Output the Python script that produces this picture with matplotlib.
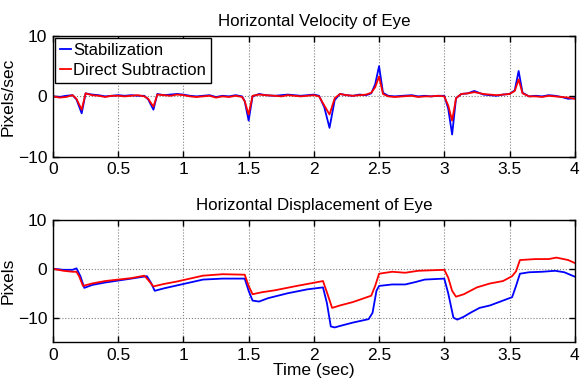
import matplotlib
matplotlib.use("Agg")
import matplotlib.pyplot as plt

plt.rcParams['font.family'] = ['Liberation Sans', 'DejaVu Sans']

# Velocity data (time, value)
vel_t = [0.0, 0.05, 0.1, 0.15, 0.18, 0.22, 0.25, 0.3, 0.35, 0.4, 0.45, 0.5, 0.55, 0.6, 0.65, 0.7,
         0.73, 0.77, 0.8, 0.85, 0.9, 0.95, 1.0, 1.05, 1.1, 1.15, 1.2, 1.25, 1.3, 1.35, 1.4, 1.45,
         1.47, 1.5, 1.53, 1.58, 1.63, 1.7, 1.75, 1.8, 1.85, 1.9, 1.95, 2.0, 2.04, 2.08, 2.12, 2.16,
         2.2, 2.25, 2.3, 2.35, 2.4, 2.44, 2.47, 2.5, 2.53, 2.57, 2.62, 2.68, 2.75, 2.8, 2.85, 2.9,
         2.95, 3.0, 3.03, 3.06, 3.09, 3.13, 3.18, 3.23, 3.3, 3.35, 3.4, 3.45, 3.5, 3.54, 3.57, 3.6,
         3.65, 3.7, 3.75, 3.8, 3.85, 3.9, 3.95, 4.0]
vel_blue = [0.0, -0.1, 0.1, 0.2, -0.5, -2.8, 0.5, 0.3, 0.2, 0.0, 0.1, 0.2, 0.1, 0.2, 0.1, 0.1,
            -0.5, -2.2, 0.4, 0.2, 0.3, 0.4, 0.3, 0.1, 0.0, 0.1, 0.2, -0.1, 0.1, 0.0, 0.2, 0.0,
            -0.8, -4.0, 0.0, 0.4, 0.2, 0.1, 0.2, 0.3, 0.2, 0.1, 0.2, 0.3, 0.1, -1.8, -5.2, -0.6,
            0.4, 0.2, 0.1, 0.3, 0.2, 0.5, 2.0, 5.0, 0.6, 0.1, 0.0, 0.1, 0.2, 0.0, 0.1, 0.0,
            0.1, 0.1, -2.0, -6.3, -0.3, 0.4, 0.5, 0.9, 0.3, 0.2, 0.1, 0.3, 0.4, 1.0, 4.2, 0.6,
            0.0, 0.1, 0.0, 0.2, 0.1, -0.1, -0.4, -0.3]
vel_red = [0.0, -0.2, -0.1, 0.2, -0.4, -2.2, 0.5, 0.2, 0.1, -0.1, 0.1, 0.1, 0.0, 0.1, 0.2, 0.0,
           -0.4, -1.7, 0.3, 0.2, 0.1, 0.3, 0.2, 0.0, -0.1, 0.0, 0.1, -0.2, 0.0, -0.1, 0.1, -0.1,
           -0.8, -3.0, 0.1, 0.3, 0.2, 0.1, 0.0, 0.2, 0.1, 0.0, 0.1, 0.2, 0.0, -1.5, -3.0, -0.3,
           0.4, 0.2, 0.1, 0.2, 0.3, 0.6, 1.5, 3.3, 0.4, 0.0, -0.1, 0.0, 0.1, -0.1, 0.0, 0.0,
           0.1, 0.0, -1.5, -4.0, -0.3, 0.4, 0.5, 0.7, 0.4, 0.3, 0.2, 0.3, 0.4, 0.9, 2.8, 0.5,
           0.0, 0.0, -0.1, 0.1, 0.0, -0.1, -0.2, -0.4]

# Displacement data
disp_t_blue = [0.0, 0.08, 0.15, 0.18, 0.21, 0.24, 0.3, 0.4, 0.5, 0.6, 0.72, 0.75, 0.78, 0.85, 0.95,
               1.05, 1.15, 1.3, 1.47, 1.5, 1.53, 1.58, 1.65, 1.8, 1.95, 2.07, 2.1, 2.13, 2.16, 2.2,
               2.3, 2.42, 2.45, 2.48, 2.5, 2.6, 2.7, 2.78, 2.85, 3.0, 3.03, 3.07, 3.1, 3.15, 3.2,
               3.27, 3.35, 3.45, 3.52, 3.55, 3.58, 3.65, 3.75, 3.85, 3.92, 4.0]
disp_blue = [0.0, -0.2, -0.2, 0.1, -1.5, -3.9, -3.3, -2.8, -2.4, -2.0, -1.5, -2.8, -4.5, -4.0, -3.4,
             -2.8, -2.2, -2.0, -2.0, -4.5, -6.5, -6.7, -6.0, -5.0, -4.2, -3.8, -7.0, -11.8, -12.0, -11.7,
             -11.0, -10.3, -9.0, -4.5, -3.5, -3.2, -3.2, -2.7, -2.2, -2.0, -5.0, -10.0, -10.4, -9.8, -9.0,
             -8.0, -7.5, -6.5, -5.8, -3.5, -1.0, -0.7, -0.6, -0.4, -0.7, -1.6]
disp_t_red = [0.0, 0.08, 0.15, 0.18, 0.2, 0.23, 0.3, 0.4, 0.5, 0.6, 0.7, 0.73, 0.77, 0.85, 0.95,
              1.05, 1.15, 1.3, 1.47, 1.5, 1.53, 1.6, 1.7, 1.85, 1.95, 2.07, 2.1, 2.14, 2.2, 2.3,
              2.44, 2.47, 2.5, 2.6, 2.7, 2.8, 2.9, 3.0, 3.03, 3.06, 3.09, 3.15, 3.25, 3.35, 3.45,
              3.52, 3.55, 3.58, 3.7, 3.8, 3.86, 3.95, 4.0]
disp_red = [0.0, -0.4, -0.6, -0.6, -1.5, -3.5, -3.0, -2.5, -2.2, -1.9, -1.4, -2.3, -3.6, -3.1, -2.6,
            -2.0, -1.4, -1.1, -1.2, -3.5, -5.2, -4.8, -4.4, -3.6, -3.1, -2.5, -4.8, -8.0, -7.5, -6.8,
            -5.5, -3.5, -1.0, -0.6, -0.8, -0.4, -0.3, -0.2, -1.8, -4.5, -5.7, -5.2, -3.8, -3.0, -2.5,
            -1.5, -0.5, 1.8, 2.0, 2.0, 2.3, 1.8, 1.2]

blue = '#0000ff'
red = '#ff0000'

fig = plt.figure(figsize=(5.81, 3.78), dpi=100)
ax1 = fig.add_axes([0.0912, 0.585, 0.898, 0.320])
ax2 = fig.add_axes([0.0912, 0.095, 0.898, 0.323])

ax1.plot(vel_t, vel_blue, color=blue, lw=1.3, label='Stabilization')
ax1.plot(vel_t, vel_red, color=red, lw=1.3, label='Direct Subtraction')
ax2.plot(disp_t_blue, disp_blue, color=blue, lw=1.3)
ax2.plot(disp_t_red, disp_red, color=red, lw=1.3)

ax1.set_xlim(0, 4)
ax1.set_ylim(-10, 10)
ax1.set_yticks([-10, 0, 10])
ax2.set_xlim(0, 4)
ax2.set_ylim(-15, 10)
ax2.set_yticks([-10, 0, 10])

for ax in (ax1, ax2):
    ax.set_xticks([0, 0.5, 1, 1.5, 2, 2.5, 3, 3.5, 4])
    ax.set_xticklabels(['0', '0.5', '1', '1.5', '2', '2.5', '3', '3.5', '4'])
    ax.grid(True, linestyle=':', color='#808080', lw=0.8)
    ax.tick_params(direction='in', top=True, right=True, labelsize=12.5, length=4, width=1, pad=4)
    for s in ax.spines.values():
        s.set_linewidth(1.0)

ax1.set_title('Horizontal Velocity of Eye', fontsize=12.2, pad=7)
ax2.set_title('Horizontal Displacement of Eye', fontsize=12.2, pad=7)
ax1.set_ylabel('Pixels/sec', fontsize=12.5, labelpad=2)
ax2.set_ylabel('Pixels', fontsize=12.5, labelpad=2)
ax2.set_xlabel('Time (sec)', fontsize=12.5, labelpad=0)

leg = ax1.legend(loc='upper left', fontsize=12, handlelength=0.7, handletextpad=0.1,
                 borderpad=0.3, labelspacing=0.3, borderaxespad=0.1, fancybox=False,
                 framealpha=1, edgecolor='black')
leg.get_frame().set_linewidth(1.0)

fig.savefig('out.png', dpi=100)
